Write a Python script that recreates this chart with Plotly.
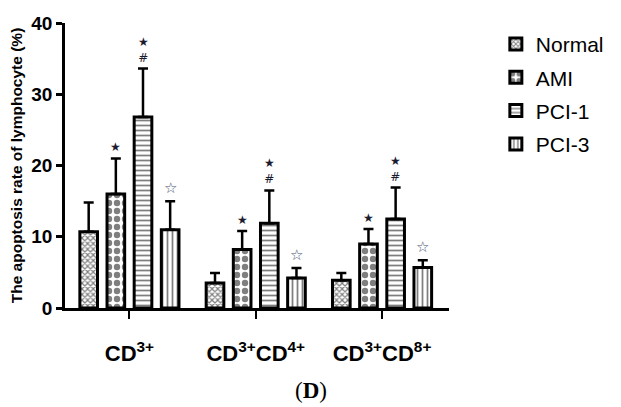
import plotly.graph_objects as go

categories = ["CD<sup>3+</sup>", "CD<sup>3+</sup>CD<sup>4+</sup>", "CD<sup>3+</sup>CD<sup>8+</sup>"]
series_names = ["Normal", "AMI", "PCI-1", "PCI-3"]
normal = [10.7, 3.5, 3.9]
normal_err = [4.1, 1.4, 1.0]
ami = [16.0, 8.2, 9.0]
ami_err = [5.0, 2.6, 2.1]
pci1 = [26.8, 11.9, 12.5]
pci1_err = [6.8, 4.6, 4.4]
pci3 = [11.0, 4.2, 5.7]
pci3_err = [4.0, 1.4, 1.0]
y_ticks = [0, 10, 20, 30, 40]
# significance marks per series (top line first)
marks = ["", "★", "★<br>#", "☆"]

values = [normal, ami, pci1, pci3]
errors = [normal_err, ami_err, pci1_err, pci3_err]
patterns = [
    dict(shape="x", size=4, solidity=0.5, fgcolor="black", bgcolor="white"),
    dict(shape=".", size=8, solidity=0.5, fgcolor="black", bgcolor="white"),
    dict(shape="-", size=5, solidity=0.35, fgcolor="black", bgcolor="white"),
    dict(shape="|", size=5, solidity=0.35, fgcolor="black", bgcolor="white"),
]

BARGAP = 0.14
BARGROUPGAP = 0.35
xs = list(range(len(categories)))

fig = go.Figure()
for i, name in enumerate(series_names):
    fig.add_trace(go.Bar(
        x=xs, y=values[i], name=name, legendgroup=name,
        marker=dict(color="white", line=dict(color="black", width=3), pattern=patterns[i]),
        error_y=dict(type="data", array=errors[i], arrayminus=[0] * len(xs), symmetric=False,
                     color="black", thickness=2.5, width=5),
    ))

slot = (1 - BARGAP) / len(series_names)
annotations = []
for i in range(len(series_names)):
    if not marks[i]:
        continue
    off = (i - (len(series_names) - 1) / 2) * slot
    star_open = marks[i] == "☆"
    for g in xs:
        top = values[i][g] + errors[i][g]
        annotations.append(dict(
            x=g + off, y=top, xref="x", yref="y", text=marks[i], showarrow=False,
            yanchor="bottom", yshift=2,
            font=dict(family="DejaVu Sans", size=15 if star_open else 12,
                      color="#4a5670" if star_open else "#1c1c30"),
        ))

annotations.append(dict(
    x=0.64, y=-0.29, xref="paper", yref="paper", text="(<b>D</b>)", showarrow=False,
    xanchor="center", yanchor="middle",
    font=dict(family="Liberation Serif", size=23, color="black"),
))

fig.update_layout(
    width=621, height=407,
    margin=dict(l=65, r=145, t=23, b=99),
    paper_bgcolor="white", plot_bgcolor="white",
    barmode="group", bargap=BARGAP, bargroupgap=BARGROUPGAP,
    font=dict(family="Liberation Sans", color="black"),
    showlegend=True,
    legend=dict(x=1.122, y=0.997, xanchor="left", yanchor="top",
                font=dict(family="Liberation Sans", size=21, color="black"),
                tracegroupgap=3, bgcolor="rgba(0,0,0,0)"),
    annotations=annotations,
    xaxis=dict(
        range=[-0.51, 2.53], tickvals=xs, ticktext=["<b>%s</b>" % c for c in categories],
        showline=True, linecolor="black", linewidth=2.5,
        ticks="outside", ticklen=8, tickwidth=1.5, tickcolor="black",
        tickfont=dict(family="Liberation Sans", size=22, color="black"),
        ticklabelstandoff=16,
        showgrid=False, zeroline=False,
    ),
    yaxis=dict(
        range=[0, 40], tickvals=y_ticks, ticktext=["<b>%d</b>" % v for v in y_ticks],
        showline=True, linecolor="black", linewidth=2.5,
        ticks="outside", ticklen=6, tickwidth=2.5, tickcolor="black",
        tickfont=dict(family="Liberation Sans", size=19, color="black"),
        title=dict(text="<b>The apoptosis rate of lymphocyte (%)</b>", standoff=5,
                   font=dict(family="Liberation Sans", size=15.5, color="black")),
        showgrid=False, zeroline=False,
    ),
)

fig.write_html("out.html")
